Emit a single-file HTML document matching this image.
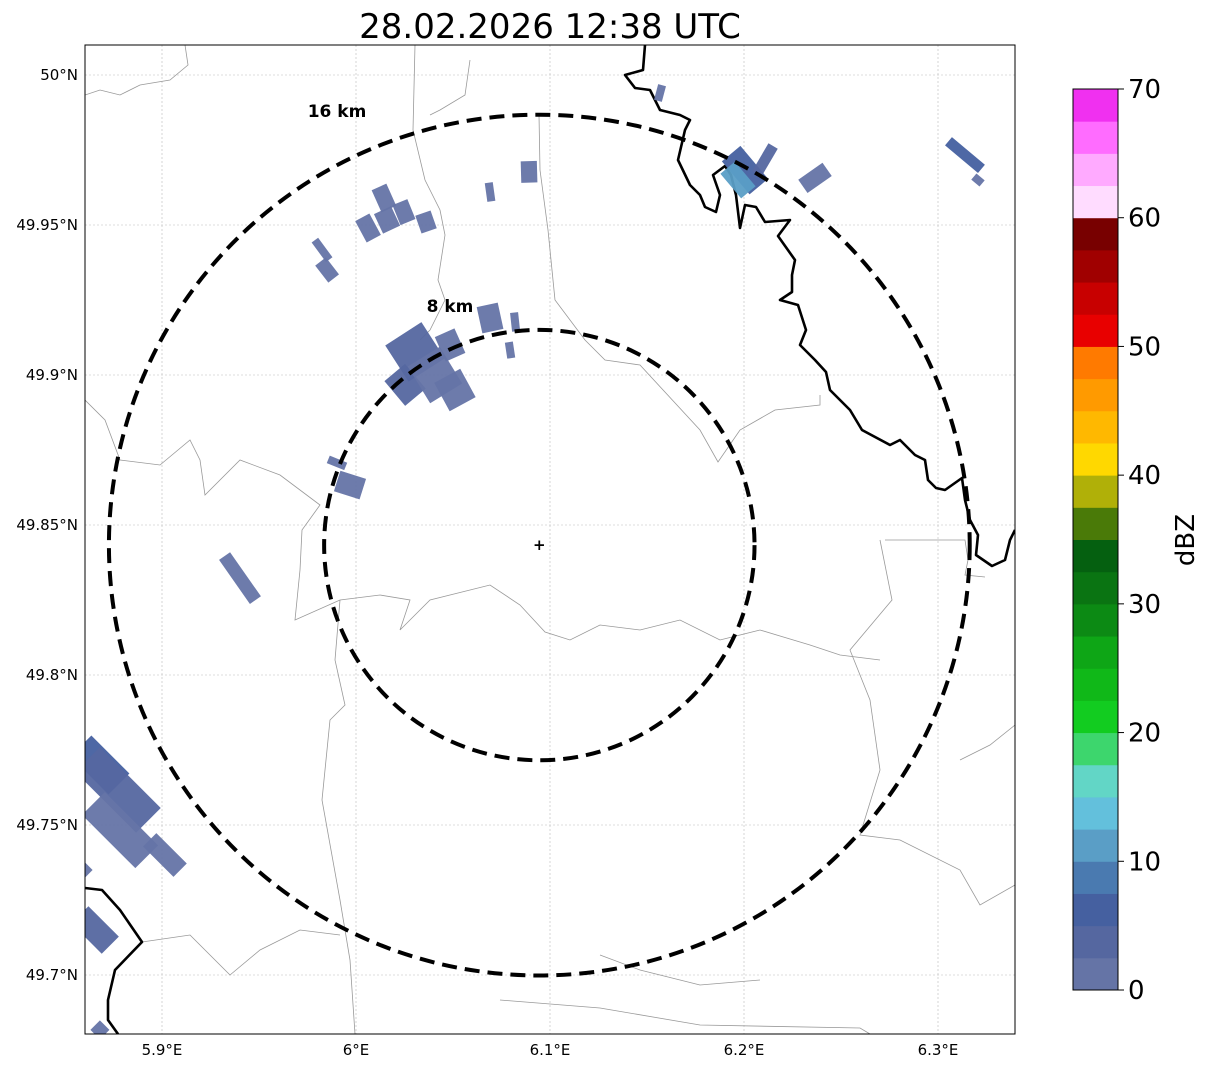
<!DOCTYPE html>
<html><head><meta charset="utf-8"><style>
body{margin:0;background:#fff;font-family:"Liberation Sans","DejaVu Sans",sans-serif}
svg text{font-family:"DejaVu Sans","Liberation Sans",sans-serif}
</style></head><body>
<svg id="chart" width="1207" height="1069" xmlns="http://www.w3.org/2000/svg">
<text x="550" y="38" font-size="34" text-anchor="middle">28.02.2026 12:38 UTC</text>
<defs><clipPath id="mapclip"><rect x="85" y="45" width="930" height="989"/></clipPath></defs>
<g id="grid"></g>
<g id="borders" clip-path="url(#mapclip)" fill="none"></g>
<g id="cells" clip-path="url(#mapclip)"></g>
<g id="rings"></g>
<rect x="85" y="45" width="930" height="989" fill="none" stroke="#000" stroke-width="1"/>
<g id="axes"></g>
<g id="cbar"></g>
</svg>
<script>
const lonTicks=[5.9,6.0,6.1,6.2,6.3];
const lonLabels=["5.9°E","6°E","6.1°E","6.2°E","6.3°E"];
const latTicks=[50.0,49.95,49.9,49.85,49.8,49.75,49.7];
const latLabels=["50°N","49.95°N","49.9°N","49.85°N","49.8°N","49.75°N","49.7°N"];
const cbTicks=[0,10,20,30,40,50,60,70];
const cbColors=["#6574a6","#5567a0","#4560a0","#4a7ab0","#5a9ec6","#63c0dc","#62d6c6","#3dd66d","#12cc20","#10b818","#0ea616","#0c8a14","#0a7412","#056010","#4a7a08","#b0b008","#ffd800","#ffb800","#ff9a00","#ff7a00","#e80000","#c80000","#a00000","#780000","#ffdcff","#ffaaff","#ff6cff","#f030f0"];
const radarLon=6.0945, radarLat=49.8433;
const ringKm=[8,16];
// radar cells: lon, lat, value (dBZ)
const cellLon=[6.1567,6.2005,6.1969,6.2108,6.2366,6.3139,6.3206,6.0892,6.0691,6.0144,6.0160,6.0062,6.0247,6.0361,5.9825,5.9851,6.0691,6.0820,6.0794,6.0304,6.0485,6.0253,6.0407,6.0510,5.9902,5.9969,5.9402,5.8680,5.8773,5.8784,5.9015,5.8603,5.8655,5.8680];
const cellLat=[49.9940,49.9683,49.9650,49.9717,49.9657,49.9733,49.9650,49.9677,49.9610,49.9590,49.9517,49.9490,49.9543,49.9510,49.9417,49.9350,49.9190,49.9177,49.9083,49.9077,49.9100,49.8967,49.9000,49.8950,49.8707,49.8633,49.8323,49.7700,49.7617,49.7483,49.7400,49.7350,49.7150,49.6817];
const cellVal=[2,7,12,3,2,5,2,2,2,2,2,2,2,2,2,2,2,2,2,3,2,4,2,2,2,2,2,5,3,2,2,2,4,2];
// cell extents in km (length, width)
const cellLen=[0.6,1.6,1.2,1.2,1.1,1.6,0.4,0.8,0.7,0.9,0.8,0.9,0.8,0.7,0.9,0.8,1.0,0.7,0.6,1.6,1.0,1.2,1.6,1.2,0.7,1.0,2.0,2.0,3.2,2.8,1.6,0.4,1.6,0.5];
const cellWid=[0.3,0.9,0.7,0.4,0.6,0.4,0.3,0.6,0.3,0.6,0.7,0.6,0.6,0.6,0.3,0.5,0.8,0.3,0.3,1.6,0.8,1.0,1.4,1.1,0.3,0.8,0.5,1.1,1.3,1.2,0.7,0.4,0.9,0.5];
const cellRot=[0,50,50,0,-35,40,40,0,0,0,0,0,0,0,0,0,0,0,0,0,0,0,0,0,0,0,55,45,45,45,45,45,45,45];

const X0=85,X1=1015,Y0=45,Y1=1034;
const xs=lon=>162+(lon-5.9)*1940;
const ys=lat=>75+(50.0-lat)*3000;
const kmPx=26.9;
const NS="http://www.w3.org/2000/svg";
function mk(tag,attrs,parent){const e=document.createElementNS(NS,tag);for(const k in attrs)e.setAttribute(k,attrs[k]);parent.appendChild(e);return e;}
const grid=document.getElementById('grid'),axes=document.getElementById('axes');
lonTicks.forEach((t,i)=>{const x=xs(t);
 const l=mk('line',{x1:x,x2:x,y1:Y0,y2:Y1,stroke:'#bbb','stroke-width':0.6,'stroke-dasharray':'2,2'},grid);
 
 
 const tx=mk('text',{x:x,y:1055,'font-size':15,'text-anchor':'middle'},axes);tx.textContent=lonLabels[i];
 
 });
latTicks.forEach((t,i)=>{const y=ys(t);
 const l=mk('line',{x1:X0,x2:X1,y1:y,y2:y,stroke:'#bbb','stroke-width':0.6,'stroke-dasharray':'2,2'},grid);
 
 
 const tx=mk('text',{x:78,y:y+5,'font-size':15,'text-anchor':'end'},axes);tx.textContent=latLabels[i];
 
 });

const borders=document.getElementById('borders');
const gray=[
 [[85,95],[100,90],[120,95],[140,85],[170,80],[188,65],[185,45]],
 [[415,45],[413,130],[425,180],[440,210],[445,235],[438,280],[445,300],[430,330],[420,340]],
 [[470,60],[465,95],[440,110],[430,115]],
 [[539,115],[540,170],[548,230],[555,300],[585,340],[605,360],[640,365],[700,430],[718,462],[740,430],[775,410],[820,405],[820,395]],
 [[85,400],[105,420],[120,460],[160,465],[190,440],[200,460],[205,495],[240,460],[280,475],[320,505],[302,530],[300,570],[295,620],[340,600],[380,595],[410,600],[400,630],[430,600],[490,585],[520,605],[545,632],[570,640],[600,625],[640,630],[680,620],[720,640],[760,630],[810,645],[840,655],[880,660]],
 [[340,600],[335,660],[345,705],[330,720],[322,800],[340,900],[350,960],[355,1034]],
 [[142,942],[190,935],[230,975],[260,950],[300,930],[340,935]],
 [[500,1000],[600,1008],[700,1025],[860,1028],[870,1034]],
 [[600,955],[640,970],[700,985],[760,980]],
 [[880,540],[892,600],[850,650],[870,700],[880,770],[860,835],[900,840],[960,870],[980,905],[1015,885]],
 [[885,540],[965,540],[968,560],[965,575],[985,577]],
 [[1015,725],[990,745],[960,760]]
];
gray.forEach(p=>{const e=mk('polyline',{points:p.map(q=>q.join(',')).join(' '),stroke:'#999','stroke-width':0.8},borders);
 
 });
const black=[
 [[645,45],[643,70],[625,75],[635,88],[650,90],[660,110],[680,115],[690,120],[685,130],[678,160],[690,185],[700,195],[705,207],[716,212],[720,195],[713,175],[725,166],[731,175],[736,195],[740,228],[745,205],[756,207],[765,222],[790,220],[778,236],[795,260],[792,275],[792,292],[780,300],[798,305],[806,330],[800,345],[815,360],[826,372],[830,390],[850,410],[862,430],[890,445],[900,440],[915,455],[925,460],[928,480],[936,488],[945,490],[962,478],[965,500],[970,520],[978,535],[976,555],[992,566],[1005,560],[1010,540],[1015,530]],
 [[85,888],[102,890],[120,910],[142,942],[115,970],[108,1000],[108,1020],[118,1034]]
];
black.forEach(p=>{const e=mk('polyline',{points:p.map(q=>q.join(',')).join(' '),stroke:'#000','stroke-width':2.6,'stroke-linejoin':'round'},borders);
 
 });

const colorFor=v=>cbColors[Math.max(0,Math.min(cbColors.length-1,Math.floor(v/2.5)))];
const cx=xs(radarLon),cy=ys(radarLat);
const cells=document.getElementById('cells');
cellLon.forEach((lo,i)=>{const x=xs(lo),y=ys(cellLat[i]);
 let ang=Math.atan2(y-cy,x-cx)*180/Math.PI;
 if(cellRot[i])ang=cellRot[i];
 const L=cellLen[i]*kmPx,W=cellWid[i]*kmPx;
 const r=mk('rect',{x:-L/2,y:-W/2,width:L,height:W,fill:colorFor(cellVal[i]),opacity:0.95,transform:`translate(${x},${y}) rotate(${ang})`},cells);
 
 });

const rings=document.getElementById('rings');
ringKm.forEach(k=>{const c=mk('circle',{cx:cx,cy:cy,r:k*kmPx,fill:'none',stroke:'#000','stroke-width':4,'stroke-dasharray':'15,8'},rings);
 
 
 const t=mk('text',{x:k==8?450:337,y:k==8?312:117,'font-size':17,'font-weight':'bold','text-anchor':'middle'},rings);t.textContent=k+' km';
 
 });
const plus=mk('text',{x:cx,y:cy+5,'font-size':15,'font-weight':'bold','text-anchor':'middle'},rings);plus.textContent='+';



const cb=document.getElementById('cbar');
const CB0=990,CB1=89,cbY=v=>CB0-(v/70)*(CB0-CB1);
cbColors.forEach((c,i)=>{const y1=cbY((i+1)*2.5),y0=cbY(i*2.5);
 const r=mk('rect',{x:1073,y:y1,width:45,height:y0-y1+0.5,fill:c},cb);
 
 });
mk('rect',{x:1073,y:CB1,width:45,height:CB0-CB1,fill:'none',stroke:'#000','stroke-width':1},cb);
cbTicks.forEach(t=>{const y=cbY(t);mk('line',{x1:1118,x2:1124,y1:y,y2:y,stroke:'#000'},cb);
 const tx=mk('text',{x:1128,y:y+9,'font-size':26},cb);tx.textContent=t;
 
 });
const lab=mk('text',{x:1194,y:540,'font-size':26,'text-anchor':'middle',transform:'rotate(-90 1194 540)'},cb);lab.textContent='dBZ';


</script>
</body></html>
